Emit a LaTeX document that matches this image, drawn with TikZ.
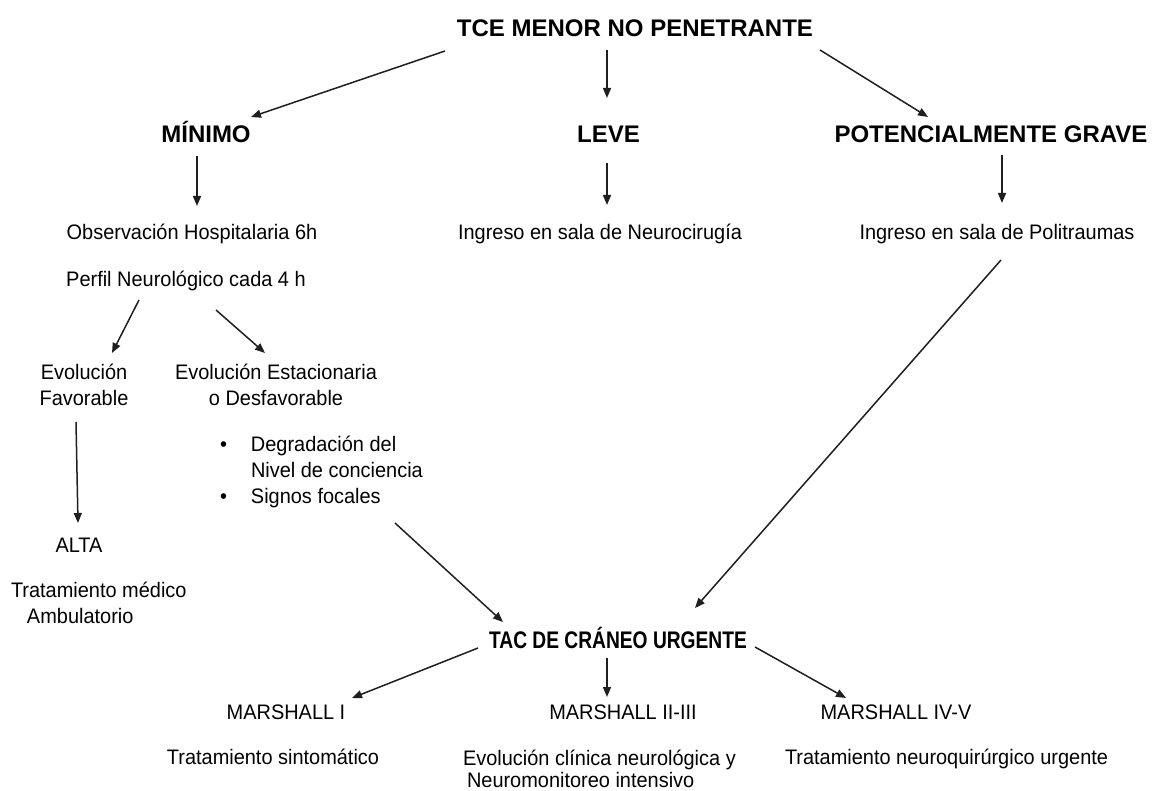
\documentclass[tikz,border=0pt]{standalone}
\usepackage{fontspec}
\setmainfont{Liberation Sans}
\newfontfamily\regfont[FakeStretch=0.95]{Liberation Sans}
\newfontfamily\tacfont[FakeStretch=0.8]{Liberation Sans}
\usetikzlibrary{arrows.meta,calc}
\begin{document}
\begin{tikzpicture}[x=1pt,y=-1pt,
  every node/.style={inner sep=0pt,outer sep=0pt,text=black},
  head/.style={font=\fontsize{24}{29}\selectfont\bfseries,anchor=base},
  txt/.style={font=\regfont\fontsize{21}{26}\selectfont,anchor=base},
  tac/.style={font=\tacfont\fontsize{24}{29}\selectfont\bfseries,anchor=base},
  arr/.style={-{Triangle[length=10pt,width=8pt]},line width=1.5pt,black!88}
]
\useasboundingbox (0,0) rectangle (1161,791);
\fill[white] (0,0) rectangle (1161,791);

% level 0 and 1
\node[head] (title) at (635,37) {TCE MENOR NO PENETRANTE};
\node[head] (min) at (206,143) {MÍNIMO};
\node[head] (leve) at (608.5,143) {LEVE};
\node[head] (pot) at (991,143) {POTENCIALMENTE GRAVE};

% level 2
\node[txt] (obs) at (192,240) {Observación Hospitalaria 6h};
\node[txt] (neuro) at (600,240) {Ingreso en sala de Neurocirugía};
\node[txt] (pol) at (997,240) {Ingreso en sala de Politraumas};
\node[txt] (perfil) at (186,287) {Perfil Neurológico cada 4 h};

% evolution
\node[txt] (fav) at (84,379) {\begin{tabular}[t]{@{}c@{}}Evolución\\Favorable\end{tabular}};
\node[txt] (est) at (276,379) {\begin{tabular}[t]{@{}c@{}}Evolución Estacionaria\\o Desfavorable\end{tabular}};
\node[txt,anchor=base west] (bul) at (220,451) {\begin{tabular}[t]{@{}p{31pt}@{}l@{}}\textbullet & Degradación del\\ & Nivel de conciencia\\ \textbullet & Signos focales\end{tabular}};

\node[txt] (alta) at (79,552) {ALTA};
\node[txt,anchor=base west] (trmed) at (11,597) {\begin{tabular}[t]{@{}l@{}}Tratamiento médico\\\hspace*{16pt}Ambulatorio\end{tabular}};

% TAC
\node[tac] (tac) at (618,648) {TAC DE CRÁNEO URGENTE};
\node[txt] (m1) at (286,719) {MARSHALL I};
\node[txt] (m2) at (623,719) {MARSHALL II-III};
\node[txt] (m3) at (896,719) {MARSHALL IV-V};

\node[txt] (t1) at (273,764) {Tratamiento sintomático};
\node[txt,anchor=base west,font=\regfont\fontsize{21}{22}\selectfont] (t2) at (463,765) {\begin{tabular}[t]{@{}l@{}}Evolución clínica neurológica y\\\hspace*{4pt}Neuromonitoreo intensivo\end{tabular}};
\node[txt,anchor=base west] (t3) at (785,764) {Tratamiento neuroquirúrgico urgente};

% connectors
\draw[arr] ($(title.base)+(-190,14)$) -- ($(min.base)+(45,-26)$);
\draw[arr] ($(title.base)+(-28,13)$) -- ($(leve.base)+(-1.5,-45)$);
\draw[arr] ($(title.base)+(185,13)$) -- ($(pot.base)+(-63,-26)$);
\draw[arr] ($(min.base)+(-9,13)$) -- ($(obs.base)+(5,-34)$);
\draw[arr] ($(leve.base)+(-1.5,20)$) -- ($(neuro.base)+(7,-35)$);
\draw[arr] ($(pot.base)+(11,12)$) -- ($(pol.base)+(5,-37)$);
\draw[arr] ($(perfil.base)+(-47,13)$) -- ($(fav.base)+(28,-26)$);
\draw[arr] ($(perfil.base)+(30,23)$) -- ($(est.base)+(-11,-26)$);
\draw[arr] ($(fav.base)+(-8,43)$) -- ($(alta.base)+(-1,-29)$);
\draw[arr] ($(bul.base west)+(175,72)$) -- ($(tac.base)+(-115,-26)$);
\draw[arr] ($(pol.base)+(4,20)$) -- ($(tac.base)+(77,-40)$);
\draw[arr] ($(tac.base)+(-140,0)$) -- ($(m1.base)+(66,-21)$);
\draw[arr] ($(tac.base)+(-11,10)$) -- ($(m2.base)+(-16,-22)$);
\draw[arr] ($(tac.base)+(137,-1)$) -- ($(m3.base)+(-50,-21)$);
\end{tikzpicture}
\end{document}
